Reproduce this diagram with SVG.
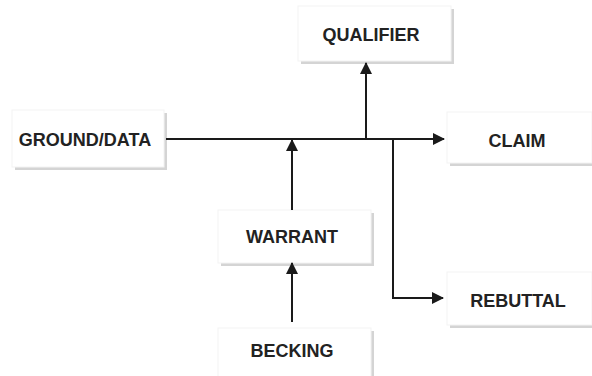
<svg xmlns="http://www.w3.org/2000/svg" width="592" height="376" viewBox="0 0 592 376">
<style>
.shadow{fill:#d4d4d4}
.box{fill:#ffffff;stroke:#f3f3f3;stroke-width:1}
.lbl{font-family:"Liberation Sans",Arial,sans-serif;font-weight:bold;font-size:18px;fill:#222222;text-anchor:middle}
.conn{stroke:#1a1a1a;stroke-width:2;fill:none}
</style>
<defs>
<marker id="ah" viewBox="0 0 12 12" refX="11" refY="6" markerWidth="12" markerHeight="12" markerUnits="userSpaceOnUse" orient="auto">
<path d="M0,0 L12,6 L0,12 Z" fill="#1a1a1a"/>
</marker>
</defs>
<rect width="592" height="376" fill="#ffffff"/>
<g id="ground">
<rect class="shadow" x="15" y="113" width="152" height="57"/>
<rect class="box" x="12" y="110" width="152" height="57"/>
<text class="lbl" x="85" y="146">GROUND/DATA</text>
</g>
<g id="qualifier">
<rect class="shadow" x="301" y="9" width="153" height="55"/>
<rect class="box" x="298" y="6" width="153" height="55"/>
<text class="lbl" x="371" y="41">QUALIFIER</text>
</g>
<g id="claim">
<rect class="shadow" x="450" y="115" width="145" height="51"/>
<rect class="box" x="447" y="112" width="145" height="51"/>
<text class="lbl" x="517" y="147">CLAIM</text>
</g>
<g id="rebuttal">
<rect class="shadow" x="450" y="275" width="145" height="53"/>
<rect class="box" x="447" y="272" width="145" height="53"/>
<text class="lbl" x="518" y="307">REBUTTAL</text>
</g>
<g id="warrant">
<rect class="shadow" x="221" y="213" width="153" height="53"/>
<rect class="box" x="218" y="210" width="153" height="53"/>
<text class="lbl" x="292" y="243">WARRANT</text>
</g>
<g id="becking">
<rect class="shadow" x="221" y="331" width="153" height="60"/>
<rect class="box" x="218" y="328" width="153" height="60"/>
<text class="lbl" x="292" y="357">BECKING</text>
</g>
<g id="connectors">
<line class="conn" x1="166" y1="139" x2="444" y2="139" marker-end="url(#ah)"/>
<line class="conn" x1="366" y1="139" x2="366" y2="63" marker-end="url(#ah)"/>
<path class="conn" d="M393,139 V298 H443" marker-end="url(#ah)"/>
<line class="conn" x1="292" y1="210" x2="292" y2="140" marker-end="url(#ah)"/>
<line class="conn" x1="292" y1="322" x2="292" y2="263" marker-end="url(#ah)"/>
</g>
</svg>
